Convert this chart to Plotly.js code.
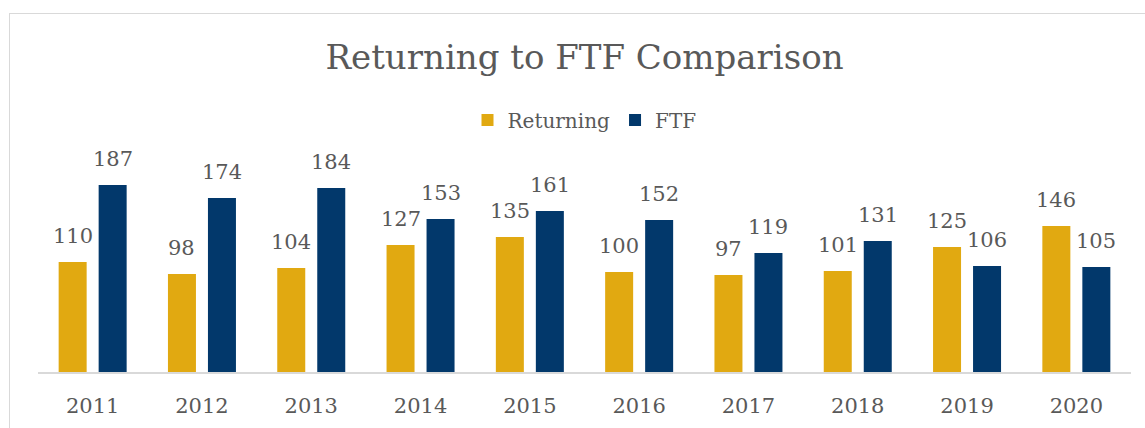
<!DOCTYPE html>
<html>
<head>
<meta charset="utf-8">
<script src="https://cdn.plot.ly/plotly-3.0.1.min.js"></script>
<style>
  html, body { margin: 0; padding: 0; background: #ffffff; overflow: hidden; }
  #frame { position: absolute; left: 9px; top: 13px; width: 1300px; height: 600px; border: 1px solid #d9d9d9; box-sizing: border-box; }
  #chart { position: absolute; left: 0; top: 0; width: 1145px; height: 428px; }
</style>
</head>
<body>
<div id="frame"></div>
<div id="chart"></div>
<script>
const years = ["2011", "2012", "2013", "2014", "2015", "2016", "2017", "2018", "2019", "2020"];
const returning = [110, 98, 104, 127, 135, 100, 97, 101, 125, 146];
const ftf = [187, 174, 184, 153, 161, 152, 119, 131, 106, 105];

const gold = "#E1A911";
const navy = "#02386B";
const textColor = "#595959";
const fontFam = "DejaVu Serif, Liberation Serif, serif";

const traces = [
  { type: "bar", name: "Returning", x: years, y: returning, marker: { color: gold }, hoverinfo: "none" },
  { type: "bar", name: "FTF", x: years, y: ftf, marker: { color: navy }, hoverinfo: "none" }
];

const annotations = [];
years.forEach((yr, i) => {
  annotations.push({ x: i, y: returning[i], xref: "x", yref: "y", text: String(returning[i]), showarrow: false,
    xshift: -20, yshift: 12, yanchor: "bottom", font: { family: fontFam, size: 21, color: textColor } });
  annotations.push({ x: i, y: ftf[i], xref: "x", yref: "y", text: String(ftf[i]), showarrow: false,
    xshift: 20, yshift: 12, yanchor: "bottom", font: { family: fontFam, size: 21, color: textColor } });
});

const layout = {
  width: 1145, height: 428,
  paper_bgcolor: "rgba(0,0,0,0)", plot_bgcolor: "rgba(0,0,0,0)",
  margin: { l: 38, r: 14, t: 172, b: 56 },
  title: { text: "Returning to FTF Comparison", xref: "paper", x: 0.5, xanchor: "center",
    yref: "container", y: 0.867, yanchor: "middle",
    font: { family: fontFam, size: 34, color: textColor } },
  barmode: "group", bargap: 0.268, bargroupgap: 0.3,
  showlegend: true,
  legend: { orientation: "h", x: 0.5, xanchor: "center", y: 1.26, yanchor: "middle",
    font: { family: fontFam, size: 20, color: textColor }, itemclick: false },
  xaxis: { type: "category", categoryarray: years, range: [-0.5, years.length - 0.5], showline: true,
    linecolor: "#d9d9d9", linewidth: 1.5, ticks: "",
    showgrid: false, zeroline: false, ticklabelstandoff: 14,
    tickfont: { family: fontFam, size: 21, color: textColor } },
  yaxis: { range: [0, 200], visible: false, showgrid: false, zeroline: false },
  annotations: annotations
};

Plotly.newPlot("chart", traces, layout, { displayModeBar: false, staticPlot: true });
</script>
</body>
</html>
